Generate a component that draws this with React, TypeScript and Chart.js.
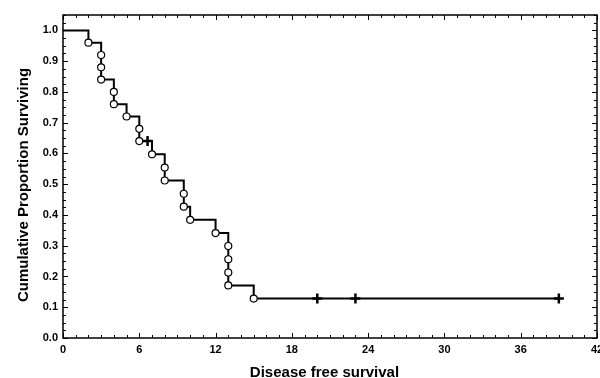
import React, { useEffect, useRef } from "react";
import { Chart, registerables } from "chart.js";

Chart.register(...registerables);

// Kaplan-Meier events (time, survival after the event)
const eventTimes = [2, 3, 3, 3, 4, 4, 5, 6, 6, 7, 8, 8, 9.5, 9.5, 10, 12, 13, 13, 13, 13, 15];
const eventSurvival = [0.96, 0.92, 0.88, 0.84, 0.8, 0.76, 0.72, 0.68, 0.64, 0.597, 0.554, 0.512, 0.469, 0.427, 0.384, 0.341, 0.299, 0.256, 0.213, 0.171, 0.128];
// censored observations
const censorTimes = [6.65, 20, 23, 39];
const censorSurvival = [0.64, 0.128, 0.128, 0.128];

const xTickValues = [0, 6, 12, 18, 24, 30, 36, 42];
const yTickValues = [0, 0.1, 0.2, 0.3, 0.4, 0.5, 0.6, 0.7, 0.8, 0.9, 1.0];

const xTitle = "Disease free survival";
const yTitle = "Cumulative Proportion Surviving";

const FONT = "'Liberation Sans', Arial, Helvetica, sans-serif";

const framePlugin = {
  id: "frameTicks",
  afterDraw(chart: any) {
    const { ctx, chartArea } = chart;
    const xs = chart.scales.x;
    const ys = chart.scales.y;
    const { left, right, top, bottom } = chartArea;
    ctx.save();
    ctx.strokeStyle = "#000";
    ctx.lineWidth = 1;
    for (let v = 0; v <= 42; v += 1) {
      const px = Math.round(xs.getPixelForValue(v)) + 0.5;
      const len = v % 6 === 0 ? 5 : 3;
      ctx.beginPath();
      ctx.moveTo(px, bottom);
      ctx.lineTo(px, bottom - len);
      ctx.moveTo(px, top);
      ctx.lineTo(px, top + len);
      ctx.stroke();
    }
    for (let i = 0; i <= 42; i++) {
      const v = i * 0.025;
      const py = Math.round(ys.getPixelForValue(v)) + 0.5;
      const len = i % 4 === 0 ? 5 : 3;
      ctx.beginPath();
      ctx.moveTo(left, py);
      ctx.lineTo(left + len, py);
      ctx.moveTo(right, py);
      ctx.lineTo(right - len, py);
      ctx.stroke();
    }
    ctx.lineWidth = 1.5;
    ctx.strokeRect(left, top, right - left, bottom - top);

    // axis titles
    ctx.fillStyle = "#000";
    ctx.font = `bold 15px ${FONT}`;
    ctx.textAlign = "center";
    ctx.textBaseline = "alphabetic";
    ctx.fillText(xTitle, (left + right) / 2 - 5.5, chart.height - 1.5);
    ctx.translate(28, (top + bottom) / 2 + 8.5);
    ctx.rotate(-Math.PI / 2);
    ctx.fillText(yTitle, 0, 0);
    ctx.restore();
  },
};

export default function App() {
  const ref = useRef<HTMLCanvasElement>(null);

  useEffect(() => {
    document.body.style.margin = "0";
    const lineData = [{ x: 0, y: 1 }]
      .concat(eventTimes.map((t, i) => ({ x: t, y: eventSurvival[i] })))
      .concat([{ x: censorTimes[censorTimes.length - 1], y: censorSurvival[censorSurvival.length - 1] }]);
    const eventPts = eventTimes.map((t, i) => ({ x: t, y: eventSurvival[i] }));
    const censorPts = censorTimes.map((t, i) => ({ x: t, y: censorSurvival[i] }));

    const chart = new Chart(ref.current as HTMLCanvasElement, {
      type: "line",
      data: {
        datasets: [
          {
            data: lineData,
            stepped: "before",
            borderColor: "#000",
            borderWidth: 2,
            pointRadius: 0,
            fill: false,
            order: 3,
          },
          {
            data: eventPts,
            showLine: false,
            pointStyle: "circle",
            pointRadius: 3.5,
            pointBackgroundColor: "#fff",
            pointBorderColor: "#000",
            pointBorderWidth: 1.2,
            order: 2,
          },
          {
            data: censorPts,
            showLine: false,
            pointStyle: "cross",
            pointRadius: 5,
            pointBorderColor: "#000",
            pointBorderWidth: 2.5,
            order: 1,
          },
        ] as any,
      },
      options: {
        animation: false,
        responsive: false,
        maintainAspectRatio: false,
        layout: { padding: { top: 15, right: 13, left: 0, bottom: 0 } },
        plugins: { legend: { display: false }, tooltip: { enabled: false } },
        scales: {
          x: {
            type: "linear",
            min: 0,
            max: 42,
            grid: { display: false, drawTicks: false },
            border: { display: false },
            afterBuildTicks: (s: any) => {
              s.ticks = xTickValues.map((v) => ({ value: v }));
            },
            afterFit: (s: any) => {
              s.height = 40;
            },
            ticks: {
              padding: 5,
              color: "#000",
              maxRotation: 0,
              autoSkip: false,
              font: { family: FONT, size: 11, weight: "bold" },
            },
            title: { display: false },
          },
          y: {
            type: "linear",
            min: 0,
            max: 1.05,
            grid: { display: false, drawTicks: false },
            border: { display: false },
            afterBuildTicks: (s: any) => {
              s.ticks = yTickValues.map((v) => ({ value: v }));
            },
            afterFit: (s: any) => {
              s.width = 63;
            },
            ticks: {
              padding: 5,
              color: "#000",
              autoSkip: false,
              callback: (v: any) => Number(v).toFixed(1),
              font: { family: FONT, size: 11, weight: "bold" },
            },
            title: { display: false },
          },
        },
      } as any,
      plugins: [framePlugin],
    });
    return () => chart.destroy();
  }, []);

  return (
    <div style={{ width: 600, height: 378, background: "#fff", overflow: "hidden" }}>
      <canvas ref={ref} width={610} height={378} style={{ display: "block" }} />
    </div>
  );
}
